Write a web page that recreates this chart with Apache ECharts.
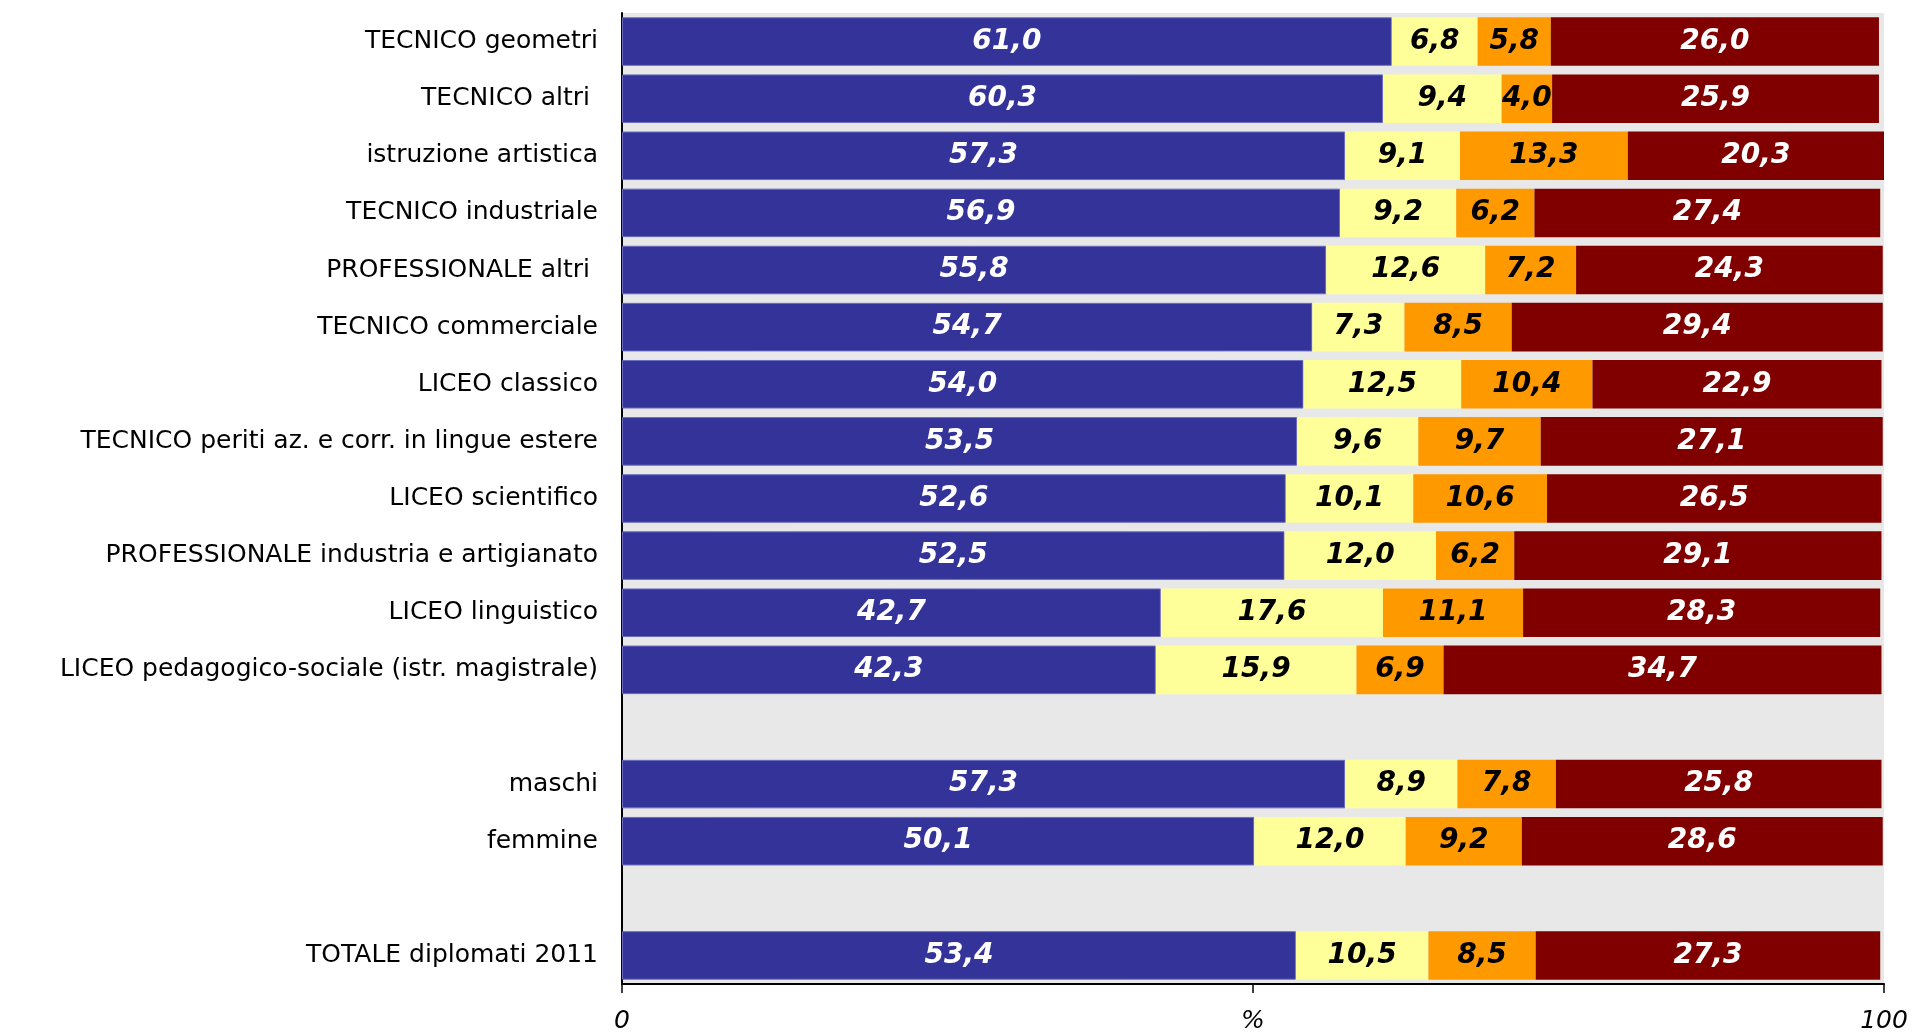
<!DOCTYPE html>
<html>
<head>
<meta charset="utf-8">
<script src="https://cdn.jsdelivr.net/npm/echarts@6/dist/echarts.min.js"></script>
<style>
html,body{margin:0;padding:0;background:#fff;}
#chart{width:1917px;height:1034px;}
</style>
</head>
<body>
<div id="chart"></div>
<script>
const categories = [
  'TECNICO geometri',
  'TECNICO altri ',
  'istruzione artistica',
  'TECNICO industriale',
  'PROFESSIONALE altri ',
  'TECNICO commerciale',
  'LICEO classico',
  'TECNICO periti az. e corr. in lingue estere',
  'LICEO scientifico',
  'PROFESSIONALE industria e artigianato',
  'LICEO linguistico',
  'LICEO pedagogico-sociale (istr. magistrale)',
  '',
  'maschi',
  'femmine',
  ' ',
  'TOTALE diplomati 2011'
];
const seriesA = [61.0, 60.3, 57.3, 56.9, 55.8, 54.7, 54.0, 53.5, 52.6, 52.5, 42.7, 42.3, null, 57.3, 50.1, null, 53.4];
const seriesB = [6.8, 9.4, 9.1, 9.2, 12.6, 7.3, 12.5, 9.6, 10.1, 12.0, 17.6, 15.9, null, 8.9, 12.0, null, 10.5];
const seriesC = [5.8, 4.0, 13.3, 6.2, 7.2, 8.5, 10.4, 9.7, 10.6, 6.2, 11.1, 6.9, null, 7.8, 9.2, null, 8.5];
const seriesD = [26.0, 25.9, 20.3, 27.4, 24.3, 29.4, 22.9, 27.1, 26.5, 29.1, 28.3, 34.7, null, 25.8, 28.6, null, 27.3];
const xTickLabels = {0: '0', 50: '%', 100: '100'};

const colors = ['#333399', '#FFFF99', '#FF9900', '#800000'];
const labelColors = ['#ffffff', '#000000', '#000000', '#ffffff'];
const allData = [seriesA, seriesB, seriesC, seriesD];
const FONT = 'DejaVu Sans';

const chart = echarts.init(document.getElementById('chart'), null, {renderer: 'canvas'});
chart.setOption({
  animation: false,
  grid: {left: 622, right: 33, top: 13, bottom: 46, show: true, backgroundColor: '#E8E8E8', borderWidth: 0},
  xAxis: {
    type: 'value', min: 0, max: 100, interval: 50,
    axisLine: {show: true, lineStyle: {color: '#000', width: 2}},
    axisTick: {show: true, length: 9, lineStyle: {color: '#000', width: 1.5}},
    splitLine: {show: false},
    axisLabel: {
      formatter: v => xTickLabels[v] !== undefined ? xTickLabels[v] : '',
      fontFamily: FONT, fontStyle: 'italic', fontSize: 25, color: '#000', margin: 25
    }
  },
  yAxis: {
    type: 'category', data: categories, inverse: true,
    axisLine: {show: true, lineStyle: {color: '#000', width: 2}},
    axisTick: {show: false},
    axisLabel: {fontFamily: FONT, fontSize: 25, color: '#000', margin: 24}
  },
  series: allData.map((d, i) => ({
    type: 'bar', stack: 'total', data: d,
    barWidth: '85%',
    itemStyle: {color: colors[i], borderColor: i === 0 ? '#6b6bc0' : 'rgba(0,0,0,0)', borderWidth: i === 0 ? 1 : 0},
    label: {
      show: true, position: 'inside',
      formatter: p => p.value == null ? '' : p.value.toFixed(1).replace('.', ','),
      fontFamily: FONT, fontWeight: 'bold', fontStyle: 'italic', fontSize: 28,
      color: labelColors[i]
    }
  }))
});
</script>
</body>
</html>
